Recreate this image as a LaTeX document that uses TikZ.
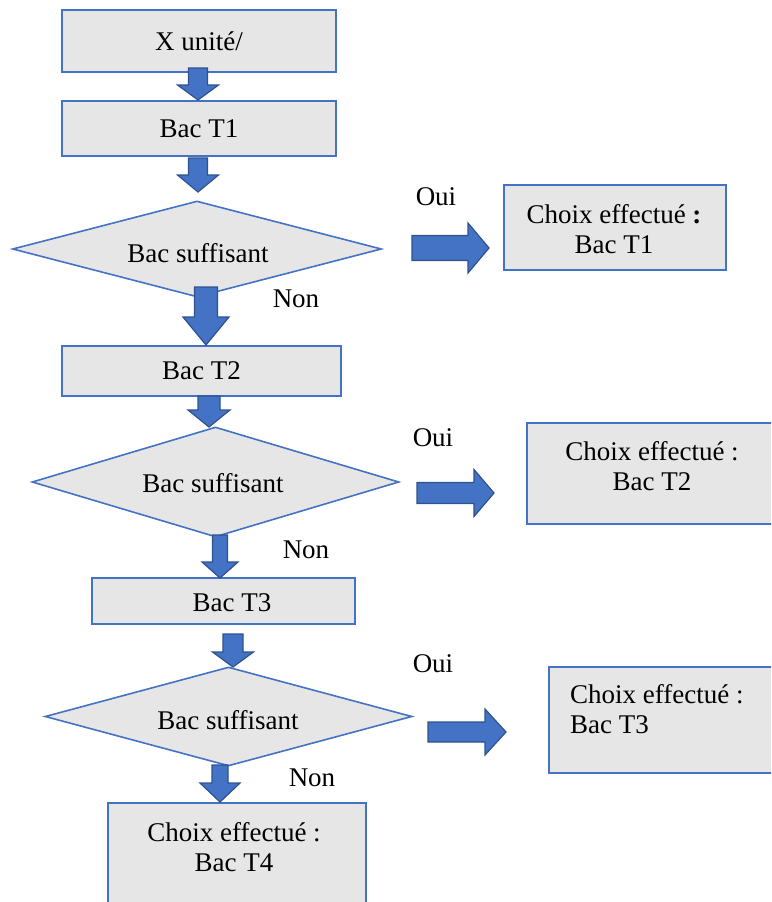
\documentclass[tikz,border=0pt]{standalone}
\usepackage{fontspec}
\setmainfont{Liberation Serif}
\usetikzlibrary{shapes.geometric}

\definecolor{boxfill}{HTML}{E7E6E6}
\definecolor{boxline}{HTML}{4472C4}
\definecolor{arrowfill}{HTML}{4472C4}
\definecolor{arrowline}{HTML}{2F528F}

% block arrow pointing down: centre x, top, head start, tip, half shaft, half head
\newcommand\blkdown[6]{%
  \filldraw[blockarrow] (#1-#5,#2) -- (#1+#5,#2) -- (#1+#5,#3) -- (#1+#6,#3)
    -- (#1,#4) -- (#1-#6,#3) -- (#1-#5,#3) -- cycle;}
% block arrow pointing right: centre y, left, head start, tip, half shaft, half head
\newcommand\blkright[6]{%
  \filldraw[blockarrow] (#2,#1-#5) -- (#3,#1-#5) -- (#3,#1-#6) -- (#4,#1)
    -- (#3,#1+#6) -- (#3,#1+#5) -- (#2,#1+#5) -- cycle;}

\tikzset{
  box/.style={rectangle, draw=boxline, fill=boxfill, line width=1.6pt,
    inner sep=0pt, align=center},
  decision/.style={diamond, draw=boxline, fill=boxfill, line width=1.6pt,
    inner sep=0pt, aspect=3.8},
  blockarrow/.style={fill=arrowfill, draw=arrowline, line width=1.2pt,
    line join=miter},
  lbl/.style={inner sep=0pt, align=center},
}

\begin{document}
\begin{tikzpicture}[x=1pt, y=-1pt, font=\fontsize{27}{30}\selectfont]
\useasboundingbox (0,0) rectangle (771,902);
\clip (0,0) rectangle (771,902);

% main column
\node[box, minimum width=274pt, minimum height=62pt] (b1) at (199,41) {X unité/};
\node[box, minimum width=274pt, minimum height=55pt] (b2) at (199,128.5) {Bac T1};
\node[decision, minimum width=369pt, minimum height=96pt] (d1) at (197,249) {};
\node[lbl] (d1t) at (198,253) {Bac suffisant};
\node[box, minimum width=279pt, minimum height=50pt] (b3) at (201.5,371) {Bac T2};
\node[decision, minimum width=367pt, minimum height=110pt] (d2) at (215.5,482) {};
\node[lbl] (d2t) at (213,483) {Bac suffisant};
\node[box, minimum width=263pt, minimum height=46pt] (b4) at (223.5,601) {};
\node[lbl] (b4t) at (232,603) {Bac T3};
\node[decision, minimum width=367pt, minimum height=99pt] (d3) at (228.5,716.5) {};
\node[lbl] (d3t) at (228,720) {Bac suffisant};
\node[box, minimum width=258pt, minimum height=107pt] (b5) at (237,856.5) {};
\node[lbl] (b5t) at (234,847) {Choix effectué :\\Bac T4};

% outcome boxes
\node[box, minimum width=222pt, minimum height=85pt] (r1) at (615,227.5) {};
\node[lbl] (r1t) at (614,229.5) {Choix effectué \textbf{:}\\Bac T1};
\node[box, minimum width=263pt, minimum height=101pt] (r2) at (658.5,473.5) {};
\node[lbl] (r2t) at (652,466.5) {Choix effectué :\\Bac T2};
\node[box, minimum width=241pt, minimum height=106pt] (r3) at (669.5,720) {};
\node[lbl, align=left, anchor=west] (r3t) at (570,709.5) {Choix effectué :\\Bac T3};

% downward block arrows
\blkdown{198}{68}{85}{100}{9.5}{20.5}
\blkdown{198}{158}{175}{192}{9.5}{20.5}
\blkdown{206}{287}{317}{345}{11.5}{23}
\blkdown{209}{396}{410}{427}{11}{21}
\blkdown{220}{535}{562}{578}{7.5}{18}
\blkdown{233}{634}{652}{667}{10}{20.5}
\blkdown{220}{765}{783}{802}{8}{20}

% rightward block arrows
\blkright{248}{412}{468}{489}{12.5}{25}
\blkright{493}{417}{474}{494}{10.5}{23.5}
\blkright{732}{428}{485}{506}{10}{23}

% branch labels
\node[lbl] (oui1) at (436,197) {Oui};
\node[lbl] (oui2) at (433,438) {Oui};
\node[lbl] (oui3) at (433,664) {Oui};
\node[lbl] (non1) at (296,299) {Non};
\node[lbl] (non2) at (306,550) {Non};
\node[lbl] (non3) at (312,778) {Non};
\end{tikzpicture}
\end{document}
